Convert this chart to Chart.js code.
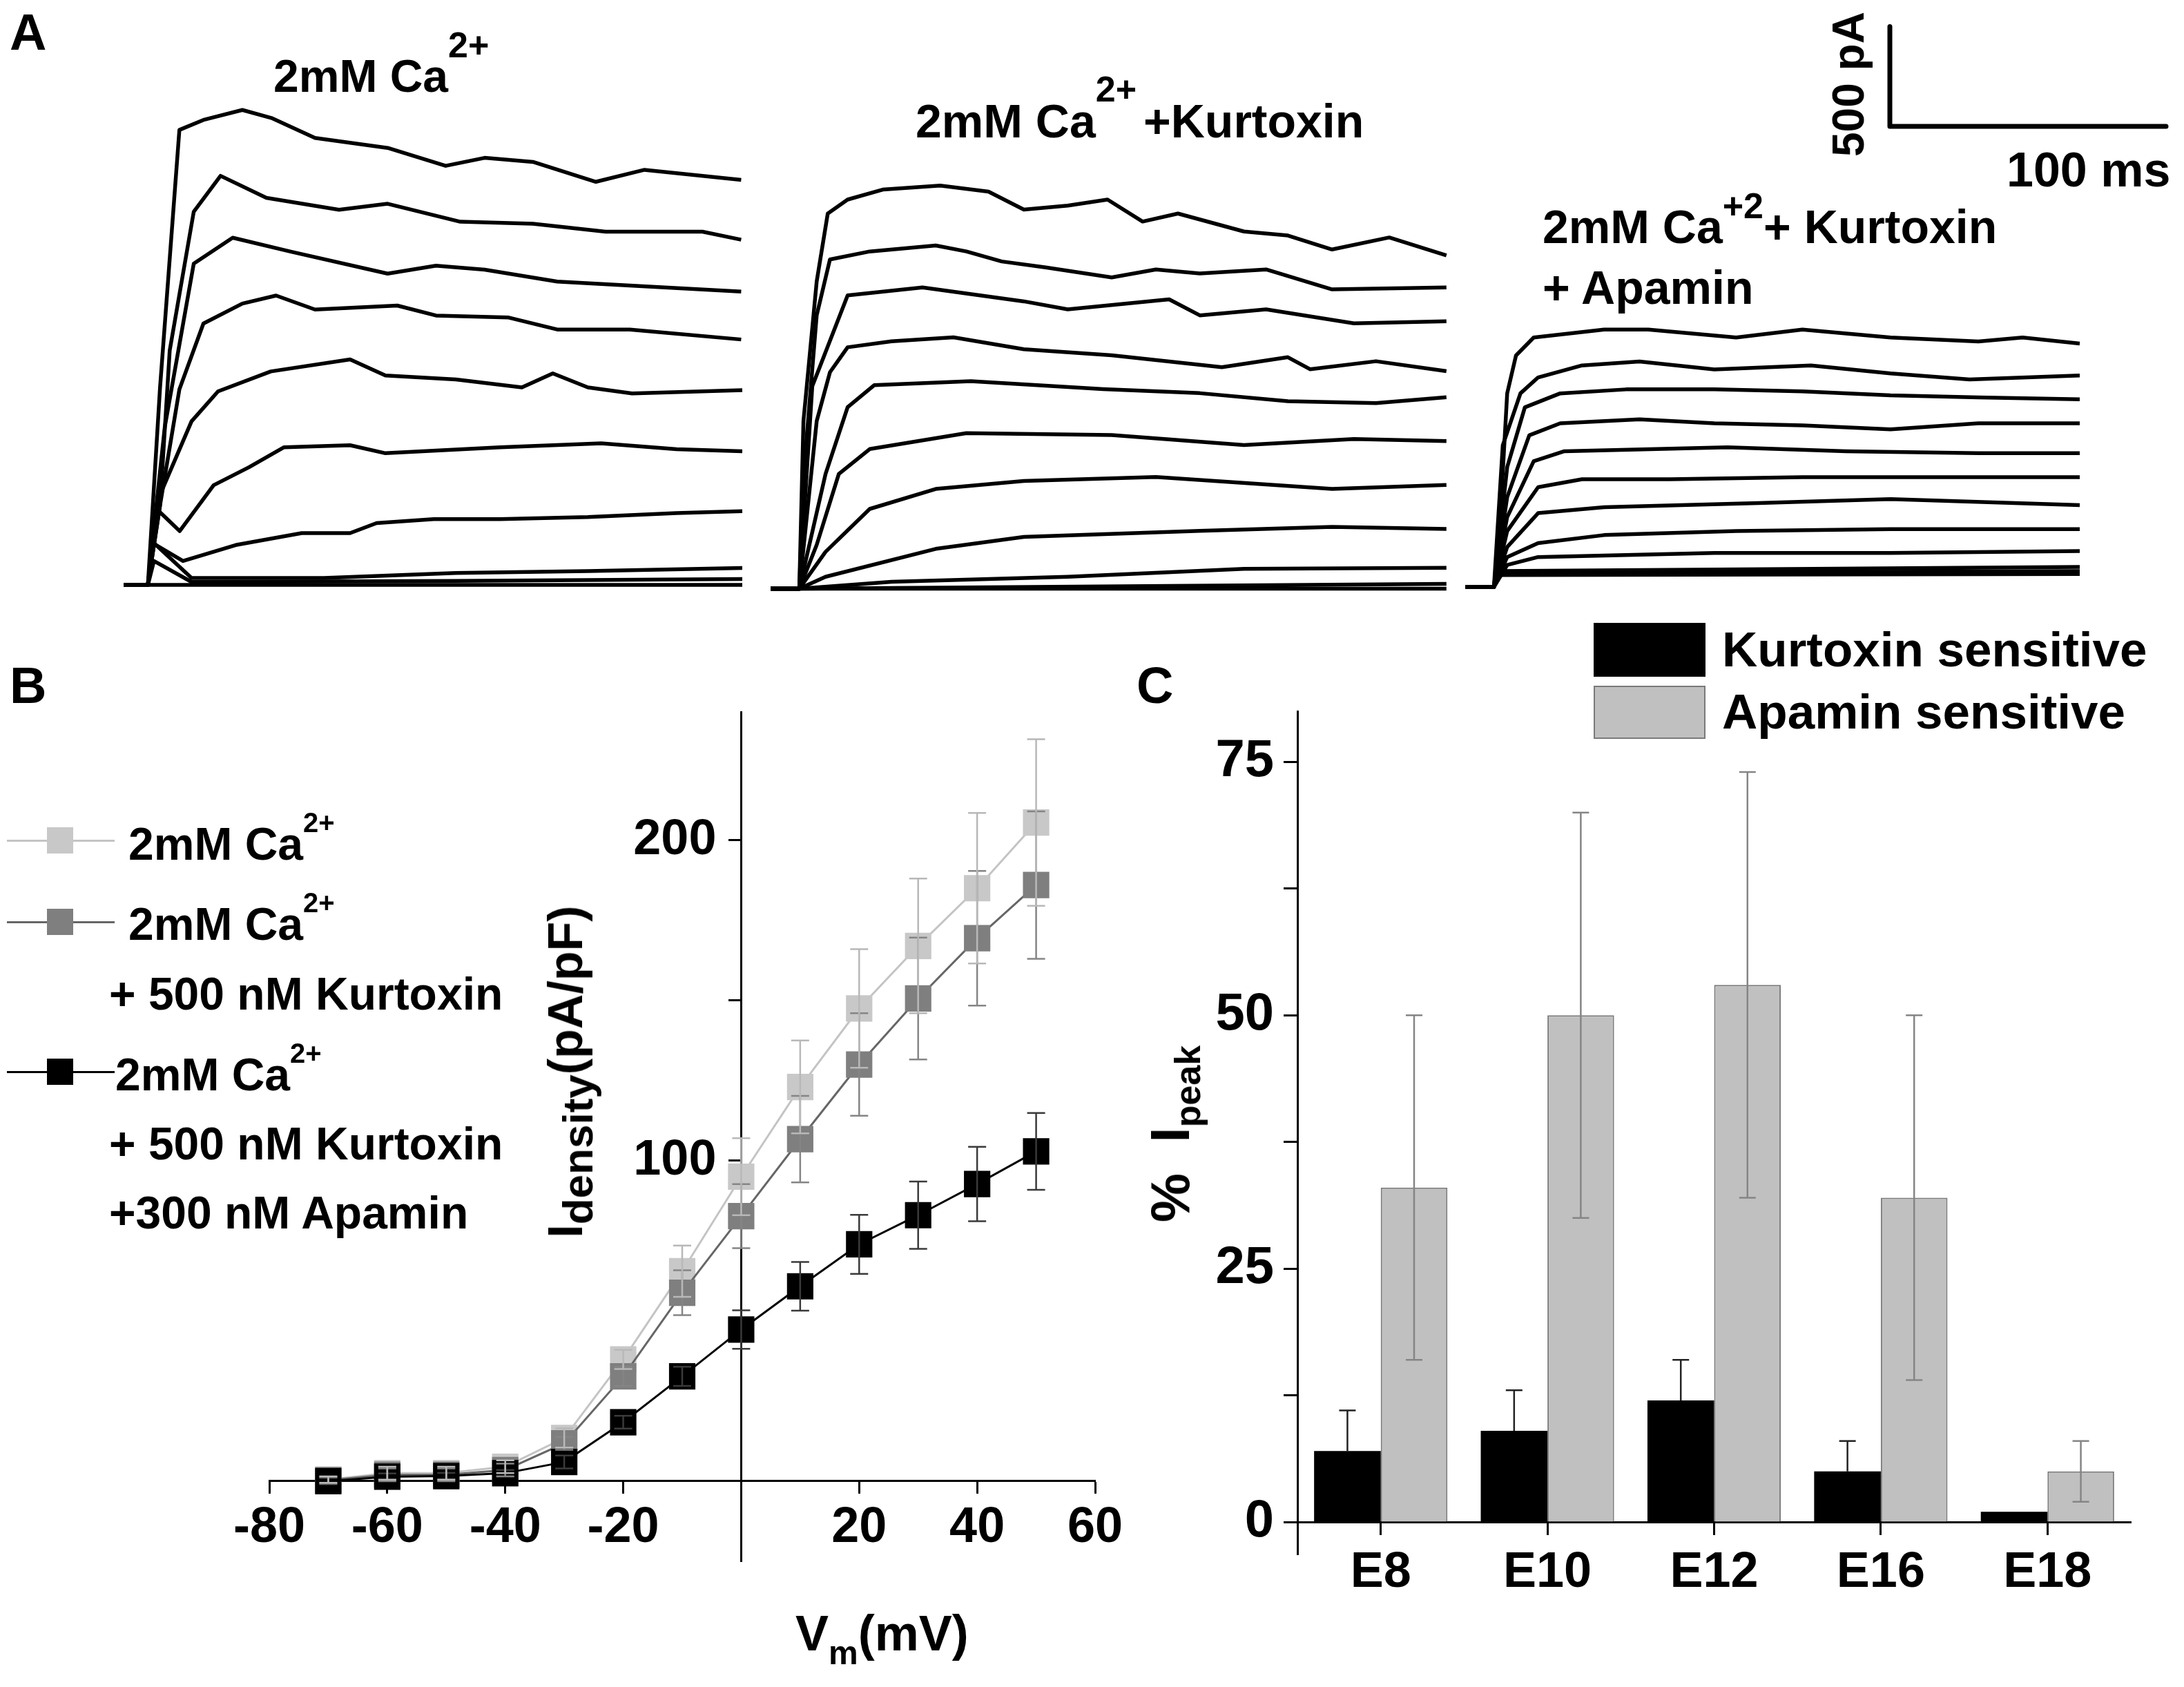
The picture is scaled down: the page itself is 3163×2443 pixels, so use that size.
<!DOCTYPE html>
<html>
<head>
<meta charset="utf-8">
<title>Ca2+ currents, Kurtoxin / Apamin</title>
<script src="https://cdn.jsdelivr.net/npm/chart.js@4.4.1/dist/chart.umd.min.js"></script>
<style>
  html, body { margin: 0; padding: 0; background: #fff; }
  body { width: 3163px; height: 2443px; position: relative; overflow: hidden;
         font-family: "Liberation Sans", Arial, sans-serif; font-weight: bold; color: #000; }
  canvas { position: absolute; }
  .t { position: absolute; white-space: nowrap; line-height: 1; }
  .t span { position: relative; }
  .rot { transform: translate(-50%, -50%) rotate(-90deg); }
  .sw { position: absolute; }
</style>
</head>
<body>
<canvas id="traces" width="3163" height="900" style="left:0;top:0"></canvas>
<canvas id="iv" width="1700" height="1483" style="left:0;top:960px"></canvas>
<canvas id="bars" width="1543" height="1563" style="left:1620px;top:880px"></canvas>

<script>
// ---- panel A: sweeps, [time ms, current pA] ----
const tracesCtrl = [
  [[0,0],[8.8,0],[13.2,990],[20.2,2280],[28.9,2330],[43,2380],[53.5,2340],[69.3,2240],[95.6,2190],[116.6,2100],[130.7,2140],[148.2,2120],[171,2020],[188.6,2080],[223.6,2030]],
  [[0,0],[8.8,0],[13.2,400],[16.7,1175],[25.4,1870],[35.1,2050],[51.7,1940],[78,1880],[95.6,1910],[121.9,1820],[148.2,1810],[174.5,1770],[209.6,1770],[223.6,1730]],
  [[0,0],[8.8,0],[14.9,790],[25.4,1610],[39.5,1740],[60.5,1670],[95.6,1560],[113.1,1600],[130.7,1580],[157,1520],[183.3,1500],[223.6,1470]],
  [[0,0],[8.8,0],[13.2,400],[20.2,980],[28.9,1310],[43,1410],[55.2,1450],[69.3,1380],[99.1,1400],[113.1,1350],[139.4,1340],[157,1280],[183.3,1280],[223.6,1230]],
  [[0,0],[8.8,0],[12.5,430],[24.6,820],[34.2,970],[53.3,1070],[82,1130],[94.8,1050],[120.3,1030],[144.2,990],[155.4,1060],[168.1,990],[184.1,960],[224,976]],
  [[0,0],[8.8,0],[12,380],[20.3,270],[32.6,500],[45.4,590],[58.1,690],[82,700],[94.8,660],[136.3,690],[172.9,710],[200.2,680],[224,670]],
  [[0,0],[8.8,0],[10.5,210],[21.5,120],[40.6,200],[64.5,260],[82,260],[91.6,310],[112.3,330],[136.3,330],[168.1,340],[200.2,360],[224,370]],
  [[0,0],[8.8,0],[11,210],[24.6,35],[72.5,35],[120.3,60],[168.1,70],[224,85]],
  [[0,0],[8.8,0],[11,120],[24.6,15],[120,20],[224,30]],
  [[0,0],[224,0]]
];
const tracesKtx = [
  [[0,0],[10.4,0],[11.9,840],[16.7,1540],[20.7,1880],[27.9,1950],[40.6,2000],[61.4,2020],[78.9,1990],[91.7,1900],[107.6,1920],[122,1950],[134.7,1840],[147.5,1880],[171.4,1790],[187.3,1770],[203.3,1700],[224,1760],[244.7,1670]],
  [[0,0],[10.4,0],[11.9,560],[16.7,1370],[21.5,1650],[35.9,1690],[59.8,1720],[70.9,1690],[83.7,1640],[99.6,1610],[123.5,1560],[139.5,1600],[155.4,1580],[179.4,1600],[203.3,1500],[244.7,1510]],
  [[0,0],[10.4,0],[15.1,1015],[27.9,1470],[55,1510],[91.7,1440],[107.6,1400],[144.3,1450],[155.4,1370],[179.4,1400],[211.2,1330],[244.7,1340]],
  [[0,0],[10.4,0],[16.7,840],[21.5,1085],[27.9,1210],[43.8,1240],[66.2,1260],[91.7,1200],[123.5,1170],[163.4,1110],[187.3,1160],[195.3,1100],[219.2,1140],[244.7,1090]],
  [[0,0],[10.4,0],[19.9,575],[27.9,910],[37.5,1020],[72.5,1040],[120.4,1000],[155.4,980],[187.3,940],[219.2,930],[244.7,960]],
  [[0,0],[10.4,0],[16.7,220],[24.7,575],[35.9,700],[70.9,780],[123.5,770],[171.4,720],[211.2,750],[244.7,740]],
  [[0,0],[10.4,0],[19.9,185],[35.9,400],[59.8,500],[91.7,540],[139.5,560],[203.3,500],[244.7,520]],
  [[0,0],[10.4,0],[19.9,60],[59.8,200],[91.7,260],[155.4,290],[203.3,310],[244.7,300]],
  [[0,0],[10.4,0],[43.8,35],[107.6,60],[171.4,100],[244.7,105]],
  [[0,0],[10.4,0],[244.7,25]],
  [[0,0],[244.7,0]]
];
const tracesKtxApa = [
  [[0,0],[10.4,0],[12,180],[15.2,970],[18.4,1160],[24.8,1250],[50.3,1290],[66.3,1290],[98.1,1250],[122.1,1290],[154,1250],[185.8,1230],[201.8,1250],[222.5,1220]],
  [[0,0],[10.4,0],[13.6,710],[20,970],[26.4,1050],[42.3,1110],[63.1,1130],[90.2,1090],[125.2,1110],[154,1070],[182.6,1040],[222.5,1060]],
  [[0,0],[10.4,0],[15.2,600],[21.6,900],[34.4,970],[58.3,990],[90.2,990],[122.1,980],[154,960],[185.8,950],[222.5,940]],
  [[0,0],[10.4,0],[15.2,450],[23.2,760],[34.4,820],[63.1,840],[90.2,820],[122.1,810],[154,790],[185.8,820],[222.5,820]],
  [[0,0],[10.4,0],[15.2,350],[24.8,630],[35.9,680],[95,700],[138,680],[185.8,670],[222.5,670]],
  [[0,0],[10.4,0],[15.2,280],[26.4,500],[42.3,540],[74.2,540],[122.1,550],[169.9,550],[222.5,550]],
  [[0,0],[10.4,0],[15.2,200],[26.4,370],[50.3,400],[106.1,420],[154,440],[222.5,410]],
  [[0,0],[10.4,0],[15.2,150],[26.4,220],[50.3,260],[98.1,280],[154,290],[222.5,290]],
  [[0,0],[10.4,0],[15.2,110],[26.4,150],[90.2,170],[154,170],[222.5,180]],
  [[0,0],[10.4,0],[12,80],[222.5,100]],
  [[0,0],[10.4,0],[12,70],[222.5,80]],
  [[0,0],[10.4,0],[12,60],[222.5,65]]
];
const scaleBarPA = 500;
const scaleBarMs = 100;

// ---- panel B: I-V, current density (pA/pF) ----
const voltages = [-70, -60, -50, -40, -30, -20, -10, 0, 10, 20, 30, 40, 50];
const densCtrl = [0.5, 2.5, 2.5, 4.5, 13.5, 38, 65.5, 95, 123, 147.5, 167, 185, 205.5];
const densCtrlErr = [1, 2, 2, 2, 3, 3, 8, 12, 14.5, 18.5, 21, 23.5, 26];
const densKtx = [0.3, 2, 2, 3.5, 11.8, 32.7, 58.8, 82.7, 106.7, 130, 150.6, 169.4, 186];
const densKtxErr = [1, 2, 2, 2, 2, 3, 7, 10, 13.5, 16, 19, 21, 23];
const densKtxApa = [0, 1.4, 1.6, 2.5, 6, 18.4, 32.7, 47.3, 60.8, 73.9, 83, 92.7, 102.9];
const densKtxApaErr = [1, 1, 1, 1, 2, 2, 3, 6, 7.6, 9.2, 10.5, 11.6, 12];
const vTicks = [-80, -60, -40, -20, 20, 40, 60];
const dTicks = [100, 200];

// ---- panel C: % of peak current by embryonic stage ----
const stages = ['E8', 'E10', 'E12', 'E16', 'E18'];
const kurtoxinSens = [7, 9, 12, 5, 1];
const kurtoxinErr = [4, 4, 4, 3, 0];
const apaminSens = [33, 50, 53, 32, 5];
const apaminErr = [17, 20, 21, 18, 3];
const pctTicks = [0, 25, 50, 75];

Chart.defaults.font.family = '"Liberation Sans", Arial, sans-serif';
Chart.defaults.font.weight = 'bold';
Chart.defaults.color = '#000';

// error bars drawn through the chart's own y scale
const errorBars = {
  id: 'errorBars',
  afterDatasetsDraw(chart) {
    const ctx = chart.ctx, ys = chart.scales.y;
    chart.data.datasets.forEach((ds, i) => {
      if (!ds.errors) return;
      const meta = chart.getDatasetMeta(i);
      ctx.save();
      ctx.strokeStyle = ds.errColor;
      ctx.lineWidth = ds.errWidth || 2.5;
      meta.data.forEach((el, j) => {
        const e = ds.errors[j];
        if (!e) return;
        const raw = ds.data[j];
        const v = typeof raw === 'object' ? raw.y : raw;
        const top = ys.getPixelForValue(v + e);
        const bot = ys.getPixelForValue(ds.upOnly ? v : v - e);
        const w = ds.capHalf || 13;
        ctx.beginPath();
        ctx.moveTo(el.x, top); ctx.lineTo(el.x, bot);
        ctx.moveTo(el.x - w, top); ctx.lineTo(el.x + w, top);
        if (!ds.upOnly) { ctx.moveTo(el.x - w, bot); ctx.lineTo(el.x + w, bot); }
        ctx.stroke();
      });
      ctx.restore();
    });
  }
};

// ---------- panel A ----------
const MS_PER_PX = 0.25, PA_PER_PX = 3.46;
const A_H = 900, A_BASE = 850;
const groupStart = [44.75, 279, 530.5];
const groupBase = [10, -9, 0];
const barAnchor = { t: 2737 * MS_PER_PX, i: (A_BASE - 183) * PA_PER_PX };

const traceSets = [];
[tracesCtrl, tracesKtx, tracesKtxApa].forEach((fam, g) => {
  fam.forEach(tr => traceSets.push({
    data: tr.map(p => ({ x: p[0] + groupStart[g], y: p[1] + groupBase[g] })),
    borderColor: '#000', borderWidth: 5.5, pointRadius: 0, tension: 0, fill: false,
    borderJoinStyle: 'round'
  }));
});
traceSets.push({
  data: [{ x: barAnchor.t, y: barAnchor.i + scaleBarPA }, { x: barAnchor.t, y: barAnchor.i }, { x: barAnchor.t + scaleBarMs, y: barAnchor.i }],
  borderColor: '#000', borderWidth: 7, pointRadius: 0, tension: 0, fill: false,
  borderJoinStyle: 'round', borderCapStyle: 'round'
});

new Chart(document.getElementById('traces'), {
  type: 'line',
  data: { datasets: traceSets },
  options: {
    responsive: false, devicePixelRatio: 1, animation: false,
    layout: { padding: 0 },
    plugins: { legend: { display: false }, tooltip: { enabled: false } },
    scales: {
      x: { type: 'linear', display: false, min: 0, max: 3163 * MS_PER_PX },
      y: { type: 'linear', display: false, min: -(A_H - A_BASE) * PA_PER_PX, max: A_BASE * PA_PER_PX }
    }
  }
});

// ---------- panel B ----------
function xy(vals) { return voltages.map((v, i) => ({ x: v, y: vals[i] })); }
const ivSeries = (data, errs, line, fill, errColor) => ({
  data: xy(data), errors: errs, errColor: errColor,
  borderColor: line, backgroundColor: fill, borderWidth: 3,
  pointStyle: 'rect', pointRadius: 27, pointBorderWidth: 0, pointBackgroundColor: fill, tension: 0
});

new Chart(document.getElementById('iv'), {
  type: 'line',
  data: {
    datasets: [
      ivSeries(densKtxApa, densKtxApaErr, '#000', '#000', '#3a3a3a'),
      ivSeries(densKtx, densKtxErr, '#666', '#7f7f7f', '#858585'),
      ivSeries(densCtrl, densCtrlErr, '#c4c4c4', '#c8c8c8', '#b8b8b8')
    ]
  },
  options: {
    responsive: false, devicePixelRatio: 1, animation: false,
    layout: { padding: { left: 390, right: 114, top: 71, bottom: 182 } },
    plugins: { legend: { display: false }, tooltip: { enabled: false } },
    scales: {
      x: {
        type: 'linear', min: -80, max: 60, position: { y: 0 },
        afterFit: s => { s.height = 0; },
        border: { color: '#000', width: 3 },
        grid: { drawOnChartArea: false, tickLength: 17, tickWidth: 3, tickColor: '#000' },
        afterBuildTicks: s => { s.ticks = vTicks.map(v => ({ value: v })); },
        ticks: { font: { size: 72, weight: 'bold' }, padding: 8, maxRotation: 0, autoSkip: false }
      },
      y: {
        type: 'linear', min: -25, max: 240, position: { x: 0 },
        afterFit: s => { s.width = 0; },
        border: { color: '#000', width: 3 },
        grid: { drawOnChartArea: false, tickLength: 17, tickWidth: 3, tickColor: '#000' },
        ticks: {
          stepSize: 50, includeBounds: false, autoSkip: false,
          font: { size: 72, weight: 'bold' },
          callback: v => dTicks.includes(v) ? v + '\u2002' : ''
        }
      }
    }
  },
  plugins: [errorBars]
});

// ---------- panel C ----------
new Chart(document.getElementById('bars'), {
  type: 'bar',
  data: {
    labels: stages,
    datasets: [
      { label: 'Kurtoxin sensitive', data: kurtoxinSens, errors: kurtoxinErr, errColor: '#222', upOnly: true,
        backgroundColor: '#000', borderColor: '#000', borderWidth: 0, capHalf: 12 },
      { label: 'Apamin sensitive', data: apaminSens, errors: apaminErr, errColor: '#858585',
        backgroundColor: '#c0c0c0', borderColor: '#7a7a7a', borderWidth: 2, capHalf: 12 }
    ]
  },
  options: {
    responsive: false, devicePixelRatio: 1, animation: false,
    datasets: { bar: { categoryPercentage: 0.8, barPercentage: 1 } },
    layout: { padding: { left: 109, right: 77, top: 150, bottom: 192 } },
    plugins: { legend: { display: false }, tooltip: { enabled: false } },
    scales: {
      x: {
        position: { y: 0 }, offset: true,
        afterFit: s => { s.height = 0; },
        border: { color: '#000', width: 3 },
        grid: { offset: false, drawOnChartArea: false, tickLength: 17, tickWidth: 3, tickColor: '#000' },
        ticks: { font: { size: 72, weight: 'bold' }, padding: 14, maxRotation: 0 }
      },
      y: {
        position: 'left', min: -3.2, max: 80,
        afterFit: s => { s.width = 150; },
        border: { color: '#000', width: 3 },
        grid: { drawOnChartArea: false, tickLength: 20, tickWidth: 3, tickColor: '#000' },
        ticks: {
          stepSize: 12.5, includeBounds: false, autoSkip: false, padding: 14,
          font: { size: 76, weight: 'bold' },
          callback: v => pctTicks.includes(v) ? v : ''
        }
      }
    }
  },
  plugins: [errorBars]
});

// ---------- text ----------
function label(html, x, base, size, cls) {
  const d = document.createElement('div');
  d.className = 't' + (cls ? ' ' + cls : '');
  d.style.left = x + 'px';
  d.style.top = (base - 0.847 * size) + 'px';
  d.style.fontSize = size + 'px';
  d.innerHTML = html;
  document.body.appendChild(d);
  return d;
}
function rotLabel(html, cx, cy, size) {
  const d = document.createElement('div');
  d.className = 't rot';
  d.style.left = cx + 'px';
  d.style.top = cy + 'px';
  d.style.fontSize = size + 'px';
  d.innerHTML = html;
  document.body.appendChild(d);
}
function box(x, y, w, h, style) {
  const d = document.createElement('div');
  d.className = 'sw';
  d.style.cssText += `left:${x}px;top:${y}px;width:${w}px;height:${h}px;` + style;
  document.body.appendChild(d);
}

label('A', 14, 73, 74);
label('B', 14, 1019, 74);
label('C', 1646, 1019, 74);

label('2mM Ca<span style="font-size:52px;top:-50px">2+</span>', 396, 133, 66);
label('2mM Ca<span style="font-size:52px;top:-52px;margin-right:10px">2+</span>+Kurtoxin', 1326, 199, 68);
label('2mM Ca<span style="font-size:52px;top:-36px">+2</span>+ Kurtoxin', 2234, 352, 68);
label('+ Apamin', 2234, 440, 68);
rotLabel('500 pA', 2677, 122, 64);
label('100 ms', 2906, 270, 70);

// panel B legend
const legRows = [
  { y: 1217, line: '#c4c4c4', fill: '#c8c8c8' },
  { y: 1335, line: '#666', fill: '#7f7f7f' },
  { y: 1552, line: '#000', fill: '#000' }
];
legRows.forEach(r => {
  box(10, r.y - 1.5, 156, 3, 'background:' + r.line);
  box(68, r.y - 19, 38, 38, 'background:' + r.fill);
});
const sup2 = '<span style="font-size:40px;top:-40px">2+</span>';
label('2mM Ca' + sup2, 186, 1245, 66);
label('2mM Ca' + sup2, 186, 1361, 66);
label('+ 500 nM Kurtoxin', 158, 1462, 66);
label('2mM Ca' + sup2, 167, 1579, 66);
label('+ 500 nM Kurtoxin', 158, 1679, 66);
label('+300 nM Apamin', 158, 1779, 66);

rotLabel('I<span style="font-size:62px;top:15px">density</span>(pA/pF)', 819, 1552, 70);
label('V<span style="font-size:48px;top:20px">m</span>(mV)', 1152, 2390, 72);

// panel C legend + axis title
box(2308, 902, 162, 78, 'background:#000');
box(2308, 993, 162, 77, 'background:#c0c0c0;box-sizing:border-box;border:2px solid #7a7a7a');
label('Kurtoxin sensitive', 2494, 965, 71);
label('Apamin sensitive', 2494, 1055, 71);
rotLabel('%&nbsp;&nbsp;I<span style="font-size:52px;top:16px">peak</span>', 1695, 1642, 80);
</script>
</body>
</html>
